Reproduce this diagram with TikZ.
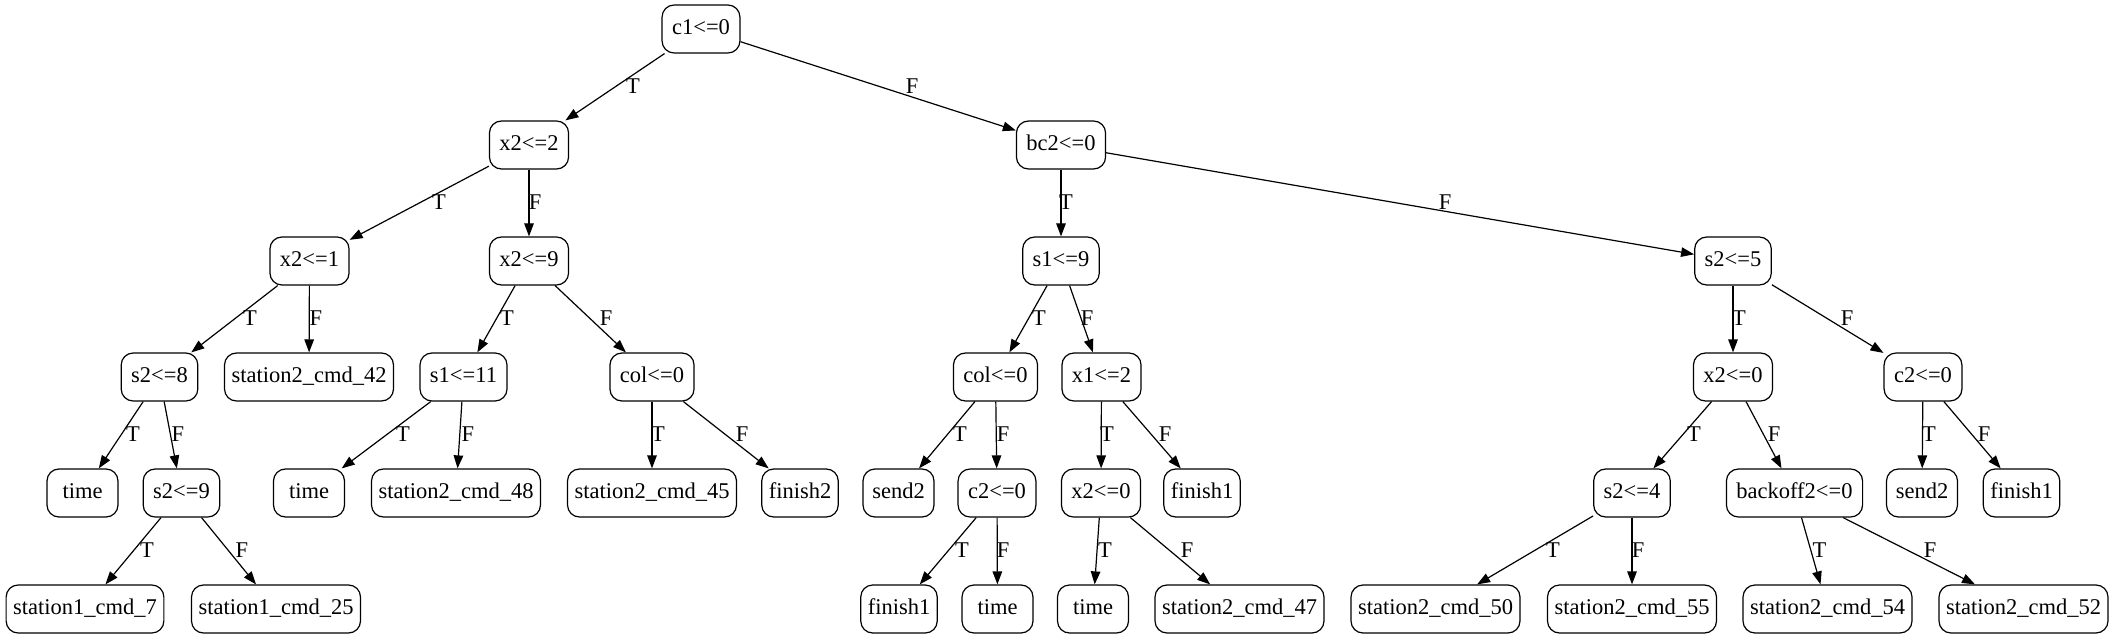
\documentclass[tikz,border=0pt]{standalone}
\usepackage{fontspec}
\setmainfont{Liberation Serif}
\usetikzlibrary{arrows.meta}
\tikzset{
  box/.style={draw, rounded corners=12pt, minimum height=48pt, minimum width=71pt,
    inner xsep=7pt, inner ysep=0pt, line width=1.2pt, text height=15pt, text depth=4pt},
  cond/.style={box, inner xsep=10pt},
  edge/.style={line width=1.2pt, -{Triangle[length=13pt,width=9.5pt]}},
  lbl/.style={inner sep=0pt}
}
\begin{document}
\begin{tikzpicture}[x=1pt,y=-1pt,font=\fontsize{22.5}{27}\selectfont]
\useasboundingbox (0,0) rectangle (2115,639);
% nodes
\node[cond] (n0) at (701,29) {c1<=0};
\node[cond] (n1) at (529,145) {x2<=2};
\node[cond] (n2) at (1061,145) {bc2<=0};
\node[cond] (n3) at (309.5,261) {x2<=1};
\node[cond] (n4) at (529,261) {x2<=9};
\node[cond] (n5) at (1061,261) {s1<=9};
\node[cond] (n6) at (1733,261) {s2<=5};
\node[cond] (n7) at (159.5,377) {s2<=8};
\node[box] (n8) at (309,377) {station2\_cmd\_42};
\node[cond] (n9) at (463.5,377) {s1<=11};
\node[cond] (n10) at (652,377) {col<=0};
\node[cond] (n11) at (995.5,377) {col<=0};
\node[cond] (n12) at (1101.5,377) {x1<=2};
\node[cond] (n13) at (1733,377) {x2<=0};
\node[cond] (n14) at (1923,377) {c2<=0};
\node[box] (n15) at (82.5,493) {time};
\node[cond] (n16) at (181.5,493) {s2<=9};
\node[box] (n17) at (309,493) {time};
\node[box] (n18) at (456,493) {station2\_cmd\_48};
\node[box] (n19) at (652,493) {station2\_cmd\_45};
\node[box] (n20) at (800,493) {finish2};
\node[box] (n21) at (898.5,493) {send2};
\node[cond] (n22) at (997,493) {c2<=0};
\node[cond] (n23) at (1101,493) {x2<=0};
\node[box] (n24) at (1202,493) {finish1};
\node[cond] (n25) at (1632,493) {s2<=4};
\node[cond] (n26) at (1794.5,493) {backoff2<=0};
\node[box] (n27) at (1922,493) {send2};
\node[box] (n28) at (2021.5,493) {finish1};
\node[box] (n29) at (85,609) {station1\_cmd\_7};
\node[box] (n30) at (276,609) {station1\_cmd\_25};
\node[box] (n31) at (899,609) {finish1};
\node[box] (n32) at (997.5,609) {time};
\node[box] (n33) at (1093,609) {time};
\node[box] (n34) at (1239.5,609) {station2\_cmd\_47};
\node[box] (n35) at (1435.5,609) {station2\_cmd\_50};
\node[box] (n36) at (1632,609) {station2\_cmd\_55};
\node[box] (n37) at (1827.5,609) {station2\_cmd\_54};
\node[box] (n38) at (2023.5,609) {station2\_cmd\_52};
% edges
\draw[edge] (n0) -- (n1);  \node[lbl] (l1) at (633,86) {T};
\draw[edge] (n0) -- (n2);  \node[lbl] (l2) at (912,86) {F};
\draw[edge] (n1) -- (n3);  \node[lbl] (l3) at (439,202) {T};
\draw[edge] (n1) -- (n4);  \node[lbl] (l4) at (535,202) {F};
\draw[edge] (n2) -- (n5);  \node[lbl] (l5) at (1066,202) {T};
\draw[edge] (n2) -- (n6);  \node[lbl] (l6) at (1445,202) {F};
\draw[edge] (n3) -- (n7);  \node[lbl] (l7) at (250,318) {T};
\draw[edge] (n3) -- (n8);  \node[lbl] (l8) at (316,318) {F};
\draw[edge] (n4) -- (n9);  \node[lbl] (l9) at (507,318) {T};
\draw[edge] (n4) -- (n10); \node[lbl] (l10) at (606,318) {F};
\draw[edge] (n5) -- (n11); \node[lbl] (l11) at (1039,318) {T};
\draw[edge] (n5) -- (n12); \node[lbl] (l12) at (1087,318) {F};
\draw[edge] (n6) -- (n13); \node[lbl] (l13) at (1739,318) {T};
\draw[edge] (n6) -- (n14); \node[lbl] (l14) at (1847,318) {F};
\draw[edge] (n7) -- (n15); \node[lbl] (l15) at (133,434) {T};
\draw[edge] (n7) -- (n16); \node[lbl] (l16) at (178,434) {F};
\draw[edge] (n9) -- (n17); \node[lbl] (l17) at (403,434) {T};
\draw[edge] (n9) -- (n18); \node[lbl] (l18) at (468,434) {F};
\draw[edge] (n10) -- (n19); \node[lbl] (l19) at (658,434) {T};
\draw[edge] (n10) -- (n20); \node[lbl] (l20) at (742,434) {F};
\draw[edge] (n11) -- (n21); \node[lbl] (l21) at (960,434) {T};
\draw[edge] (n11) -- (n22); \node[lbl] (l22) at (1003,434) {F};
\draw[edge] (n12) -- (n23); \node[lbl] (l23) at (1107,434) {T};
\draw[edge] (n12) -- (n24); \node[lbl] (l24) at (1165,434) {F};
\draw[edge] (n13) -- (n25); \node[lbl] (l25) at (1694,434) {T};
\draw[edge] (n13) -- (n26); \node[lbl] (l26) at (1774,434) {F};
\draw[edge] (n14) -- (n27); \node[lbl] (l27) at (1929,434) {T};
\draw[edge] (n14) -- (n28); \node[lbl] (l28) at (1984,434) {F};
\draw[edge] (n16) -- (n29); \node[lbl] (l29) at (147,550) {T};
\draw[edge] (n16) -- (n30); \node[lbl] (l30) at (242,550) {F};
\draw[edge] (n22) -- (n31); \node[lbl] (l31) at (962,550) {T};
\draw[edge] (n22) -- (n32); \node[lbl] (l32) at (1003,550) {F};
\draw[edge] (n23) -- (n33); \node[lbl] (l33) at (1105,550) {T};
\draw[edge] (n23) -- (n34); \node[lbl] (l34) at (1187,550) {F};
\draw[edge] (n25) -- (n35); \node[lbl] (l35) at (1553,550) {T};
\draw[edge] (n25) -- (n36); \node[lbl] (l36) at (1638,550) {F};
\draw[edge] (n26) -- (n37); \node[lbl] (l37) at (1819.5,550) {T};
\draw[edge] (n26) -- (n38); \node[lbl] (l38) at (1930,550) {F};
\end{tikzpicture}
\end{document}
